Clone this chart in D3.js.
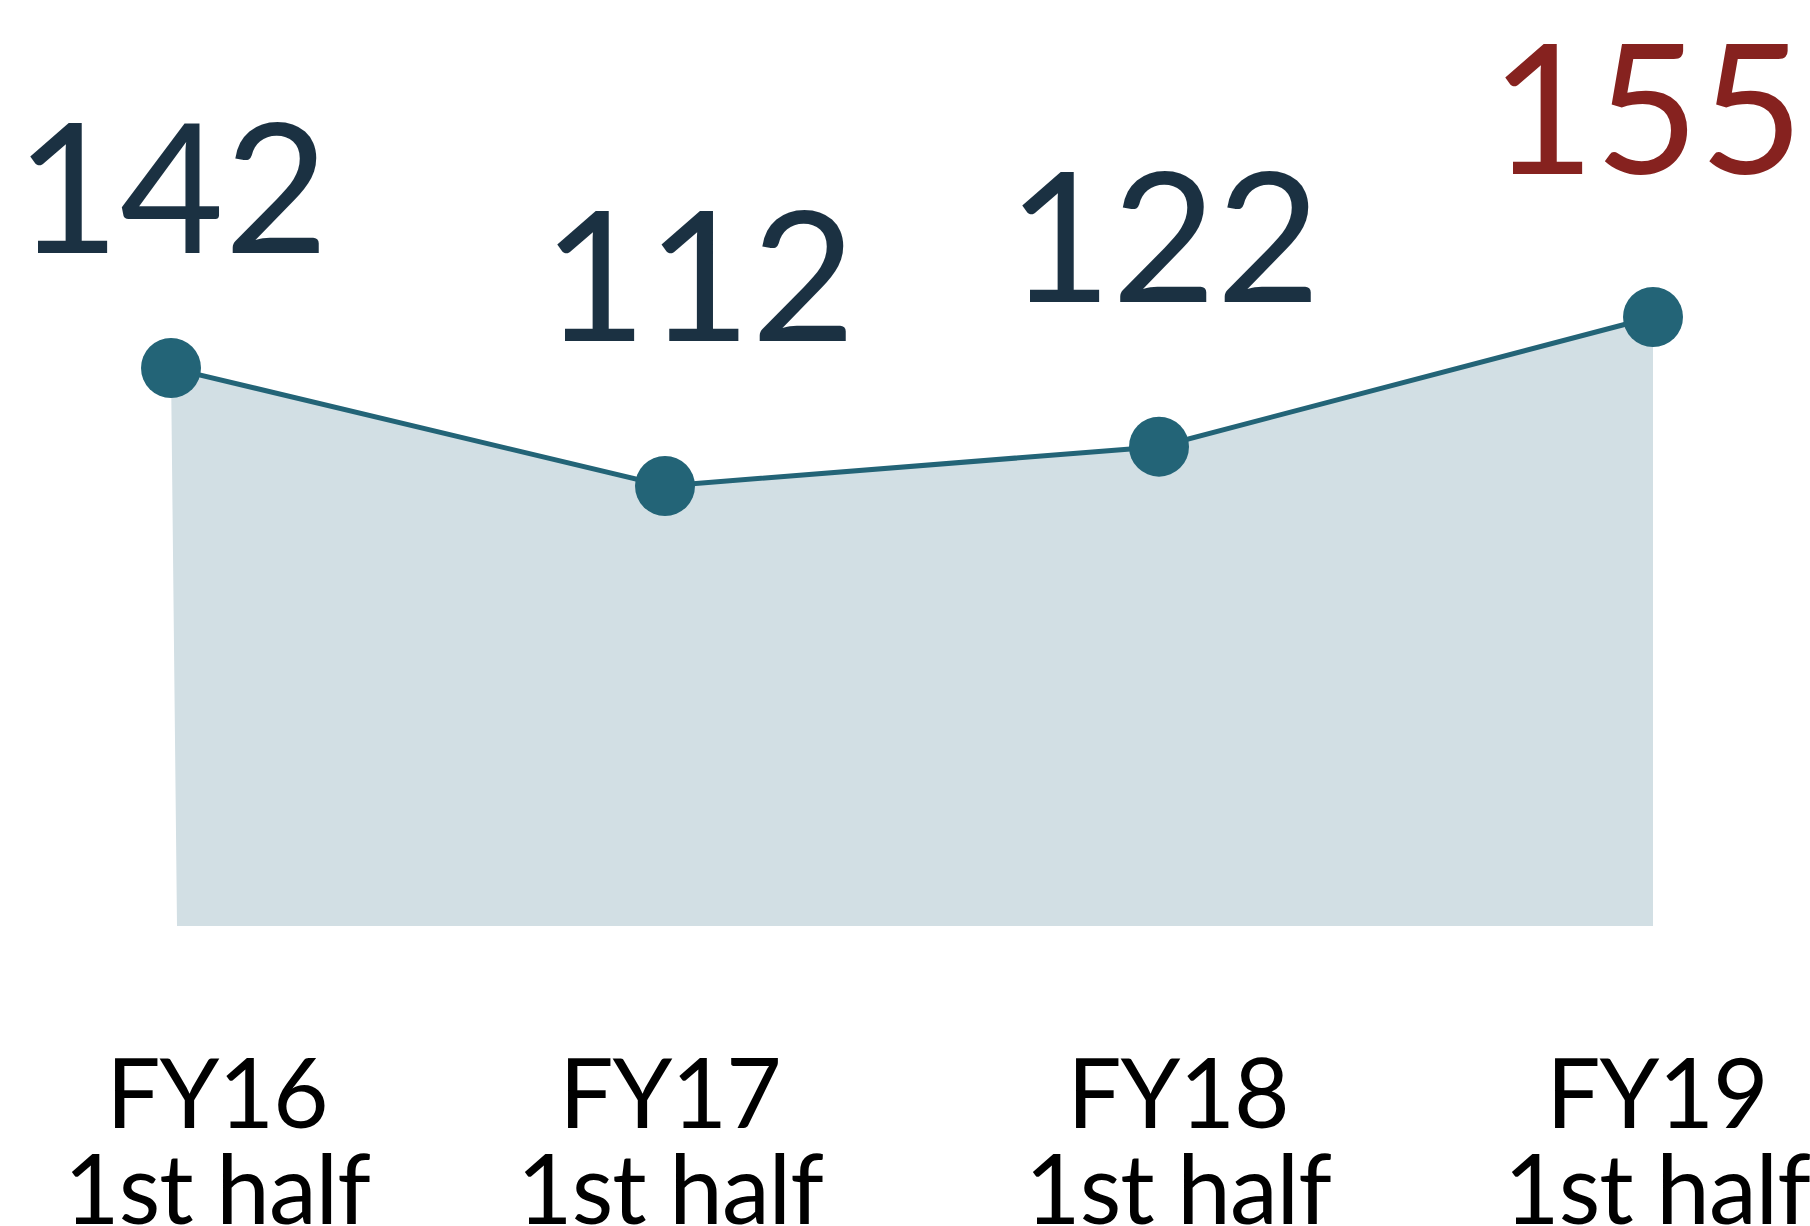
<!DOCTYPE html>
<html>
<head>
<meta charset="utf-8">
<script src="https://cdn.jsdelivr.net/npm/d3@7"></script>
<style>
  html, body { margin: 0; padding: 0; background: #ffffff; }
  svg { display: block; }
</style>
</head>
<body>
<svg id="chart" width="1810" height="1226"></svg>
<script>
// ---- data ----
const categories = ["FY16", "FY17", "FY18", "FY19"];
const subLabels = ["1st half", "1st half", "1st half", "1st half"];
const values = [142, 112, 122, 155];
const highlight = [false, false, false, true];

// ---- layout ----
const W = 1810, H = 1226;
const svg = d3.select("#chart");

const x = d3.scalePoint().domain(categories).range([171, 1653]);
const y = d3.scaleLinear().domain([0, 155]).range([926, 317]);

const data = categories.map((c, i) => ({ cat: c, sub: subLabels[i], v: values[i], hi: highlight[i], i }));

// area (baseline slightly inset at the left edge, as in the reference)
const area = d3.area()
  .x1(d => x(d.cat))
  .x0(d => d.i === 0 ? x(d.cat) + 6 : x(d.cat))
  .y1(d => y(d.v))
  .y0(y(0));

svg.append("path")
  .datum(data)
  .attr("d", area)
  .attr("fill", "#d2dfe4");

const line = d3.line()
  .x(d => x(d.cat))
  .y(d => y(d.v));

svg.append("path")
  .datum(data)
  .attr("d", line)
  .attr("fill", "none")
  .attr("stroke", "#236477")
  .attr("stroke-width", 5);

svg.selectAll("circle.pt")
  .data(data)
  .join("circle")
  .attr("class", "pt")
  .attr("cx", d => x(d.cat))
  .attr("cy", d => y(d.v))
  .attr("r", 30)
  .attr("fill", "#236477");

// value labels
const valueDy = [-115, -145, -145, -143];
const valueDx = [1, 34, 5, -6];
svg.selectAll("text.val")
  .data(data)
  .join("text")
  .attr("class", "val")
  .attr("x", d => x(d.cat) + valueDx[d.i])
  .attr("y", d => y(d.v) + valueDy[d.i])
  .attr("text-anchor", "middle")
  .attr("font-family", "Lato, 'Open Sans', sans-serif")
  .attr("font-size", 180)
  .attr("fill", d => d.hi ? "#86221f" : "#1b3142")
  .text(d => d.v);

// category labels
const catDx = [46, 5, 19, 4];
const g = svg.selectAll("g.cat")
  .data(data)
  .join("g")
  .attr("class", "cat")
  .attr("transform", d => `translate(${x(d.cat) + catDx[d.i]},0)`);

g.append("text")
  .attr("y", 1128)
  .attr("text-anchor", "middle")
  .attr("font-family", "Lato, 'Open Sans', sans-serif")
  .attr("font-size", 96)
  .attr("letter-spacing", -1)
  .attr("fill", "#000000")
  .text(d => d.cat);

g.append("text")
  .attr("y", 1224)
  .attr("text-anchor", "middle")
  .attr("font-family", "Lato, 'Open Sans', sans-serif")
  .attr("font-size", 96)
  .attr("letter-spacing", -1)
  .attr("fill", "#000000")
  .text(d => d.sub);
</script>
</body>
</html>
